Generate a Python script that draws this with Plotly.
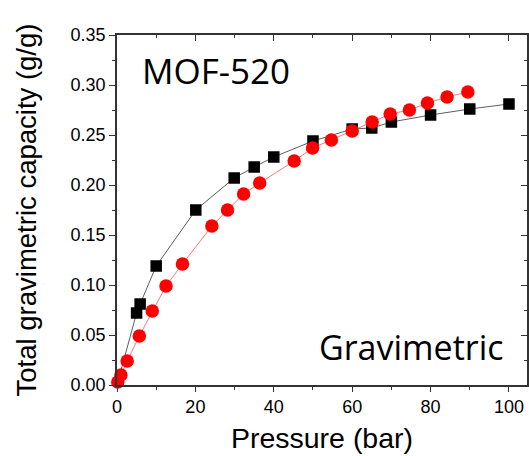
import plotly.graph_objects as go

# Black squares
black_x = [0.0, 5.0, 5.9, 10.0, 20.1, 29.9, 35.0, 40.0, 50.0, 60.0, 65.0, 70.0, 80.0, 90.0, 100.0]
black_y = [0.0, 0.072, 0.081, 0.119, 0.175, 0.207, 0.218, 0.228, 0.244, 0.256, 0.257, 0.263, 0.270, 0.276, 0.281]

# Red circles
red_x = [0.2, 1.0, 2.6, 5.7, 9.0, 12.5, 16.7, 24.2, 28.2, 32.3, 36.4, 45.2, 49.9, 54.7, 60.0, 65.1, 69.7, 74.6, 79.2, 84.2, 89.5]
red_y = [0.003, 0.010, 0.024, 0.049, 0.074, 0.099, 0.121, 0.159, 0.175, 0.191, 0.202, 0.224, 0.237, 0.245, 0.254, 0.263, 0.271, 0.275, 0.282, 0.288, 0.293]

x_ticks = [0, 20, 40, 60, 80, 100]
y_ticks = [0.00, 0.05, 0.10, 0.15, 0.20, 0.25, 0.30, 0.35]
x_range = [0, 104.6]
y_range = [0, 0.35]

# origin point of black series is hidden under the red markers
black_sizes = [0] + [11.5] * (len(black_x) - 1)

fig = go.Figure()
fig.add_trace(go.Scatter(x=black_x, y=black_y, mode="lines+markers",
                         line=dict(color="#333333", width=0.8),
                         marker=dict(symbol="square", size=black_sizes, color="black", opacity=1,
                                     line=dict(width=0)),
                         cliponaxis=False, showlegend=False))
fig.add_trace(go.Scatter(x=red_x, y=red_y, mode="lines+markers",
                         line=dict(color="#ff5555", width=0.8),
                         marker=dict(symbol="circle", size=13.5, color="#ff0000", opacity=1),
                         cliponaxis=False, showlegend=False))
# invisible trace on mirror axes
fig.add_trace(go.Scatter(x=[None], y=[None], xaxis="x2", yaxis="y2", showlegend=False))

axis_common = dict(showgrid=False, zeroline=False, showline=True, linecolor="#333333", linewidth=1.5,
                   tickcolor="#333333", tickwidth=1.2)

fig.update_layout(
    width=529, height=456,
    margin=dict(l=117, r=2, t=35, b=71),
    paper_bgcolor="white", plot_bgcolor="white",
    font=dict(family="Liberation Sans, Arial", color="black"),
    xaxis=dict(range=x_range, tickvals=x_ticks, ticktext=[str(v) for v in x_ticks],
               ticks="outside", ticklen=5,
               minor=dict(dtick=10, ticks="outside", ticklen=3, tickcolor="#333333", tickwidth=1.2),
               tickfont=dict(size=18),
               title=dict(text="Pressure (bar)", font=dict(size=28.5), standoff=12),
               **axis_common),
    yaxis=dict(range=y_range, tickvals=y_ticks, ticktext=[f"{v:.2f}" for v in y_ticks],
               ticks="outside", ticklen=6,
               minor=dict(dtick=0.025, ticks="outside", ticklen=3, tickcolor="#333333", tickwidth=1.2),
               tickfont=dict(size=18),
               title=dict(text="Total gravimetric capacity (g/g)", font=dict(size=27.5), standoff=26),
               **axis_common),
    xaxis2=dict(range=x_range, overlaying="x", side="top", anchor="y", tickvals=x_ticks,
                ticks="inside", ticklen=6, showticklabels=False,
                minor=dict(dtick=10, ticks="inside", ticklen=3, tickcolor="#333333", tickwidth=1.2),
                **axis_common),
    yaxis2=dict(range=y_range, overlaying="y", side="right", anchor="x", tickvals=y_ticks,
                ticks="inside", ticklen=6, showticklabels=False,
                minor=dict(dtick=0.025, ticks="inside", ticklen=3, tickcolor="#333333", tickwidth=1.2),
                **axis_common),
    annotations=[
        dict(text="MOF-520", xref="paper", yref="paper", x=(216-117)/410, y=(385-70)/350,
             xanchor="center", yanchor="middle", showarrow=False,
             font=dict(family="Open Sans", size=35, color="black")),
        dict(text="Gravimetric", xref="paper", yref="paper", x=(411-117)/410, y=(385-347)/350,
             xanchor="center", yanchor="middle", showarrow=False,
             font=dict(family="Open Sans", size=34, color="black")),
    ],
)

fig.write_html("out.html")
